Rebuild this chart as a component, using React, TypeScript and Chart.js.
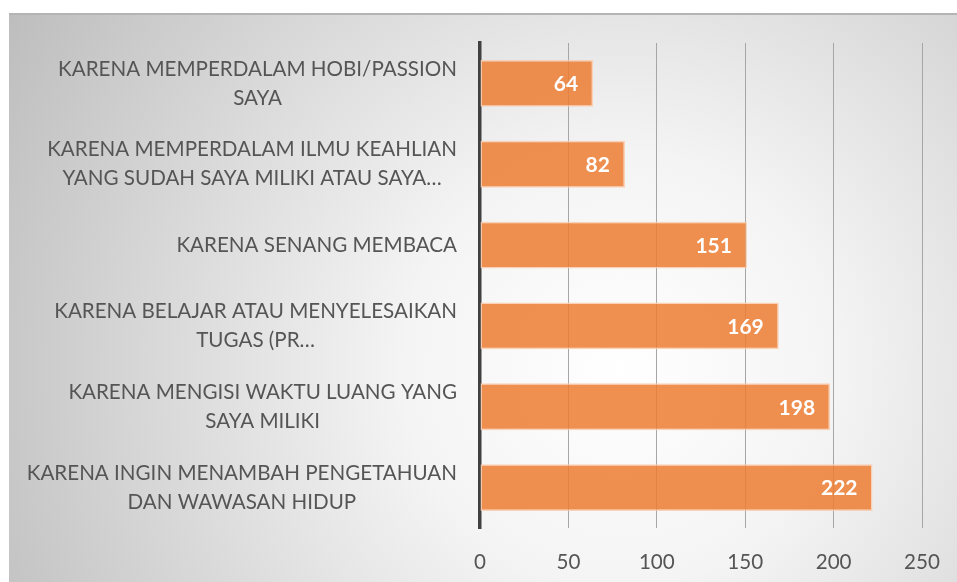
import React, { useEffect, useRef } from "react";
import { Chart, registerables } from "chart.js";

Chart.register(...registerables);

const categories: string[][] = [
  ["KARENA MEMPERDALAM HOBI/PASSION", "SAYA"],
  ["KARENA MEMPERDALAM ILMU KEAHLIAN", "YANG SUDAH SAYA MILIKI ATAU SAYA…"],
  ["KARENA SENANG MEMBACA"],
  ["KARENA BELAJAR ATAU MENYELESAIKAN", "TUGAS (PR…"],
  ["KARENA MENGISI WAKTU LUANG YANG", "SAYA MILIKI"],
  ["KARENA INGIN MENAMBAH PENGETAHUAN", "DAN WAWASAN HIDUP"],
];
const values: number[] = [64, 82, 151, 169, 198, 222];
const xTicks: number[] = [0, 50, 100, 150, 200, 250];

const FONT = "Lato, 'Open Sans', sans-serif";

const bgPlugin = {
  id: "bg",
  beforeDraw(chart: any) {
    const { ctx, width, height } = chart;
    ctx.save();
    ctx.fillStyle = "#ffffff";
    ctx.fillRect(0, 0, width, height);
    const g = ctx.createRadialGradient(620, 370, 0, 620, 370, 720);
    g.addColorStop(0, "#ffffff");
    g.addColorStop(0.3, "#f4f4f4");
    g.addColorStop(1, "#bcbcbc");
    ctx.fillStyle = g;
    ctx.fillRect(9, 13, width - 9, height - 13);
    ctx.fillStyle = "#b4b4b4";
    ctx.fillRect(9, 13, width - 9, 2);
    ctx.restore();
  },
};

const labelPlugin = {
  id: "catLabels",
  afterDraw(chart: any) {
    const { ctx } = chart;
    const yScale = chart.scales.y;
    ctx.save();
    ctx.font = `20.6px ${FONT}`;
    ctx.fillStyle = "#555555";
    ctx.textBaseline = "middle";
    ctx.textAlign = "center";
    const right = 457;
    const lh = 29;
    categories.forEach((lines, i) => {
      const cy = yScale.getPixelForValue(i);
      const maxW = Math.max(...lines.map((l) => ctx.measureText(l).width));
      const cx = right - maxW / 2;
      const start = cy - ((lines.length - 1) * lh) / 2;
      lines.forEach((l, j) => ctx.fillText(l, cx, start + j * lh));
    });
    ctx.restore();
  },
};

const valuePlugin = {
  id: "valueLabels",
  afterDatasetsDraw(chart: any) {
    const { ctx } = chart;
    const meta = chart.getDatasetMeta(0);
    ctx.save();
    ctx.font = `bold 21px ${FONT}`;
    ctx.fillStyle = "#ffffff";
    ctx.textAlign = "right";
    ctx.textBaseline = "middle";
    meta.data.forEach((bar: any, i: number) => {
      ctx.fillText(String(values[i]), bar.x - 15, bar.y + 1);
    });
    ctx.restore();
  },
};

export default function App() {
  const ref = useRef<HTMLCanvasElement>(null);
  useEffect(() => {
    if (!ref.current) return;
    const chart = new Chart(ref.current, {
      type: "bar",
      data: {
        labels: categories.map((c) => c.join(" ")),
        datasets: [
          {
            data: values,
            backgroundColor: "rgba(237,125,49,0.85)",
            borderColor: "rgba(250,205,175,0.9)",
            borderWidth: 1.5,
            borderSkipped: false,
            categoryPercentage: 1,
            barPercentage: 0.58,
          },
        ],
      },
      options: {
        indexAxis: "y",
        responsive: false,
        animation: false,
        events: [],
        layout: { padding: { left: 480, top: 43, right: 35, bottom: 0 } },
        plugins: { legend: { display: false }, tooltip: { enabled: false } },
        scales: {
          x: {
            min: 0,
            max: 250,
            afterBuildTicks(scale: any) {
              scale.ticks = xTicks.map((v) => ({ value: v }));
            },
            afterFit(scale: any) {
              scale.height = 54;
              scale.paddingLeft = 0;
              scale.paddingRight = 0;
            },
            grid: { color: "#a6a6a6", lineWidth: 1, drawTicks: false },
            border: { display: false },
            ticks: {
              padding: 22,
              maxRotation: 0,
              autoSkip: false,
              color: "#555555",
              font: { family: FONT, size: 20.6 },
            },
          },
          y: {
            afterFit(scale: any) {
              scale.width = 0;
            },
            grid: { display: false, drawTicks: false },
            border: { display: true, color: "#404040", width: 3.5 },
            ticks: { display: false },
          },
        },
      },
      plugins: [bgPlugin, labelPlugin, valuePlugin],
    });
    return () => chart.destroy();
  }, []);
  return (
    <div style={{ position: "absolute", left: 0, top: 0 }}>
      <canvas ref={ref} width={957} height={582} />
    </div>
  );
}
